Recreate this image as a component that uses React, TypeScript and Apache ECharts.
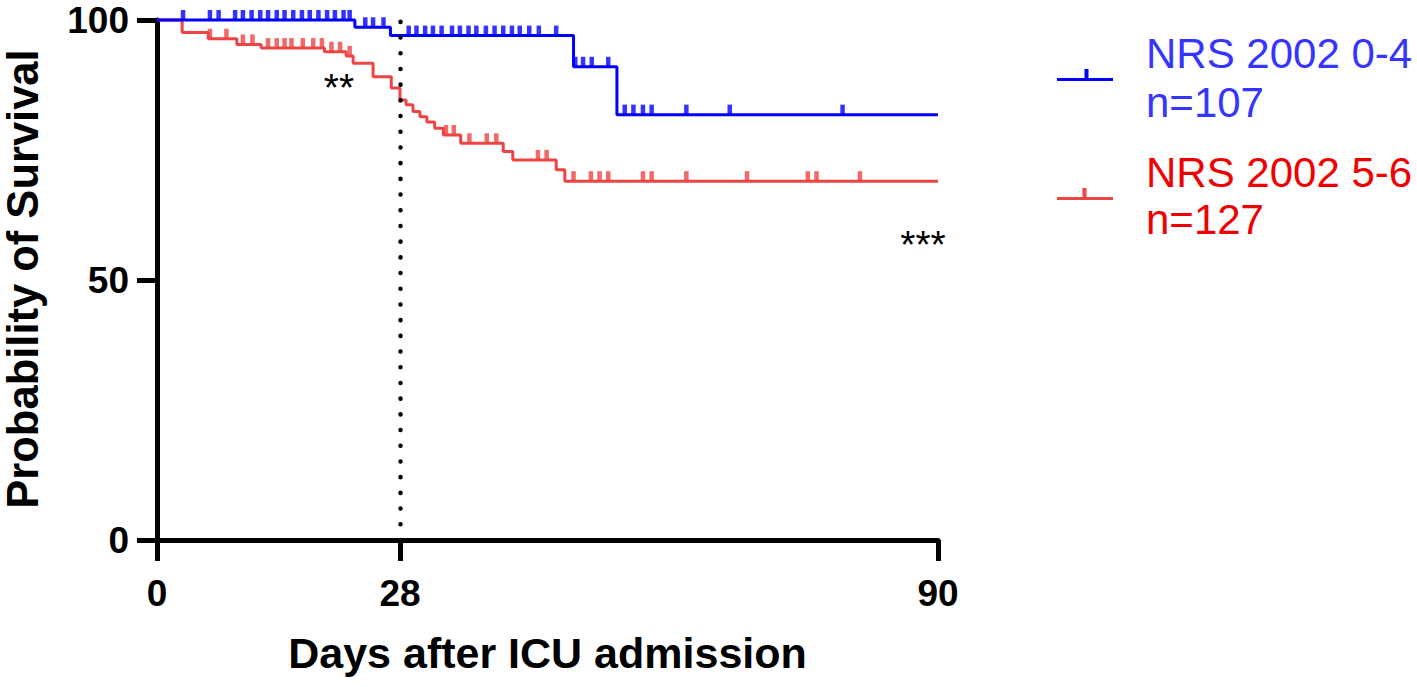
import React, { useEffect, useRef } from "react";
import * as echarts from "echarts";

// Kaplan-Meier steps: [day, survival % after the event]
const blueSteps: [number, number][] = [
  [0, 100], [22.8, 98.6], [26.9, 97.0], [48.0, 91.0], [53.0, 81.8], [90, 81.8],
];
const redSteps: [number, number][] = [
  [0, 100], [2.9, 97.6], [5.9, 96.4], [9.2, 95.3], [12.0, 94.6], [19.3, 93.9],
  [21.8, 93.1], [22.6, 91.7], [24.9, 89.1], [27.0, 86.9], [28.0, 84.6],
  [28.7, 83.7], [29.5, 82.4], [30.3, 81.4], [31.1, 80.4], [32.0, 79.2],
  [33.0, 77.9], [35.0, 76.3], [39.9, 74.7], [41.0, 73.1], [46.0, 71.2],
  [47.0, 69.0], [90, 69.0],
];
// Censoring times (days)
const blueCensor: number[] = [
  3.0, 6.1, 7.1, 9.0, 9.9, 10.9, 11.9, 12.8, 13.8, 14.7, 15.7, 16.7, 17.6,
  18.6, 19.6, 20.5, 21.5, 22.2, 24.0, 24.9, 26.1, 29.0, 29.9, 30.9, 31.8,
  32.8, 34.0, 34.9, 35.9, 36.8, 37.9, 38.9, 39.9, 40.9, 41.8, 42.9, 44.0,
  46.0, 48.2, 49.1, 50.1, 52.0, 53.9, 54.9, 56.0, 57.0, 61.0, 66.0, 79.0,
];
const redCensor: number[] = [
  6.1, 8.0, 9.9, 11.0, 12.8, 13.8, 14.7, 15.5, 16.8, 18.0, 19.0, 20.1, 21.1,
  22.2, 33.3, 34.2, 36.0, 38.0, 39.1, 43.9, 44.9, 48.0, 50.0, 51.0, 52.0,
  56.0, 57.0, 61.0, 68.0, 75.0, 76.0, 81.0,
];
const xTicks: number[] = [0, 28, 90];
const landmarkDay = 28;
const seriesNames = ["NRS 2002 0-4", "NRS 2002 5-6"];
const seriesN = ["n=107", "n=127"];

const BLUE = "#0000ff";
const RED = "#ee4444";
const FONT = "Liberation Sans, Arial, sans-serif";

function levelAt(steps: [number, number][], day: number): number {
  let v = steps[0][1];
  for (const [d, s] of steps) {
    if (d <= day) v = s;
  }
  return v;
}

export default function App() {
  const ref = useRef<HTMLDivElement>(null);
  useEffect(() => {
    if (!ref.current) return;
    const chart = echarts.init(ref.current, null, { renderer: "svg" });
    const tickSymbol = {
      type: "scatter" as const,
      symbol: "rect",
      symbolSize: [4.5, 10],
      symbolOffset: [0, -5],
      clip: false,
      silent: true,
      z: 4,
    };
    const mid = { textVerticalAlign: "middle", verticalAlign: "middle" };
    chart.setOption({
      animation: false,
      grid: { left: 157, right: 479, top: 20, bottom: 147, containLabel: false },
      xAxis: {
        type: "value",
        min: 0,
        max: 90,
        splitLine: { show: false },
        axisLine: { lineStyle: { color: "#000", width: 5 } },
        axisTick: { customValues: xTicks, length: 21, lineStyle: { color: "#000", width: 5 } },
        axisLabel: {
          customValues: xTicks,
          margin: 35,
          color: "#000",
          fontSize: 37,
          fontWeight: "bold",
          fontFamily: FONT,
        },
        name: "Days after ICU admission",
        nameLocation: "middle",
        nameGap: 91,
        nameTextStyle: { color: "#000", fontSize: 43, fontWeight: "bold", fontFamily: FONT },
      },
      yAxis: {
        type: "value",
        min: 0,
        max: 100,
        interval: 50,
        splitLine: { show: false },
        axisLine: { show: true, lineStyle: { color: "#000", width: 5 } },
        axisTick: { show: true, length: 20, lineStyle: { color: "#000", width: 5 } },
        axisLabel: {
          margin: 28,
          color: "#000",
          fontSize: 37,
          fontWeight: "bold",
          fontFamily: FONT,
        },
      },
      graphic: [
        {
          type: "text",
          x: 23,
          y: 279,
          rotation: Math.PI / 2,
          style: {
            text: "Probability of Survival",
            fill: "#000",
            fontSize: 43.5,
            fontWeight: "bold",
            fontFamily: FONT,
            textAlign: "center",
            ...mid,
          },
        },
        {
          type: "text",
          x: 339,
          y: 87,
          style: { text: "**", fill: "#000", fontSize: 39, fontFamily: FONT, textAlign: "center", ...mid },
        },
        {
          type: "text",
          x: 923,
          y: 244,
          style: { text: "***", fill: "#000", fontSize: 39, fontFamily: FONT, textAlign: "center", ...mid },
        },
        // legend
        { type: "line", shape: { x1: 1057, y1: 79.5, x2: 1113, y2: 79.5 }, style: { stroke: BLUE, lineWidth: 3 } },
        { type: "rect", shape: { x: 1084.5, y: 69, width: 4, height: 10 }, style: { fill: BLUE } },
        { type: "line", shape: { x1: 1057, y1: 198.5, x2: 1113, y2: 198.5 }, style: { stroke: RED, lineWidth: 3 } },
        { type: "rect", shape: { x: 1082.5, y: 188, width: 4, height: 10 }, style: { fill: RED } },
        {
          type: "text", x: 1146, y: 53,
          style: { text: seriesNames[0], fill: "#3535ff", fontSize: 42, fontFamily: FONT, textAlign: "left", ...mid },
        },
        {
          type: "text", x: 1146, y: 102,
          style: { text: seriesN[0], fill: "#3535ff", fontSize: 42, fontFamily: FONT, textAlign: "left", ...mid },
        },
        {
          type: "text", x: 1146, y: 172,
          style: { text: seriesNames[1], fill: "#f00000", fontSize: 42, fontFamily: FONT, textAlign: "left", ...mid },
        },
        {
          type: "text", x: 1146, y: 219,
          style: { text: seriesN[1], fill: "#f00000", fontSize: 42, fontFamily: FONT, textAlign: "left", ...mid },
        },
      ],
      series: [
        {
          name: seriesNames[1],
          type: "line",
          step: "end",
          data: redSteps,
          showSymbol: false,
          symbol: "none",
          clip: false,
          lineStyle: { color: RED, width: 3 },
          z: 2,
        },
        {
          name: seriesNames[0],
          type: "line",
          step: "end",
          data: blueSteps,
          showSymbol: false,
          symbol: "none",
          clip: false,
          lineStyle: { color: BLUE, width: 3 },
          z: 3,
          markLine: {
            silent: true,
            symbol: "none",
            label: { show: false },
            lineStyle: { color: "#000", width: 4.5, type: [0.1, 15.6], cap: "round" },
            data: [[{ coord: [landmarkDay, 0] }, { coord: [landmarkDay, 100] }]],
          },
        },
        {
          ...tickSymbol,
          name: "redCensor",
          data: redCensor.map((d) => [d, levelAt(redSteps, d)]),
          itemStyle: { color: RED },
        },
        {
          ...tickSymbol,
          name: "blueCensor",
          data: blueCensor.map((d) => [d, levelAt(blueSteps, d)]),
          itemStyle: { color: BLUE },
        },
      ],
    });
    return () => chart.dispose();
  }, []);
  return (
    <div
      ref={ref}
      style={{ position: "fixed", left: 0, top: 0, width: 1417, height: 687, background: "#fff" }}
    />
  );
}
